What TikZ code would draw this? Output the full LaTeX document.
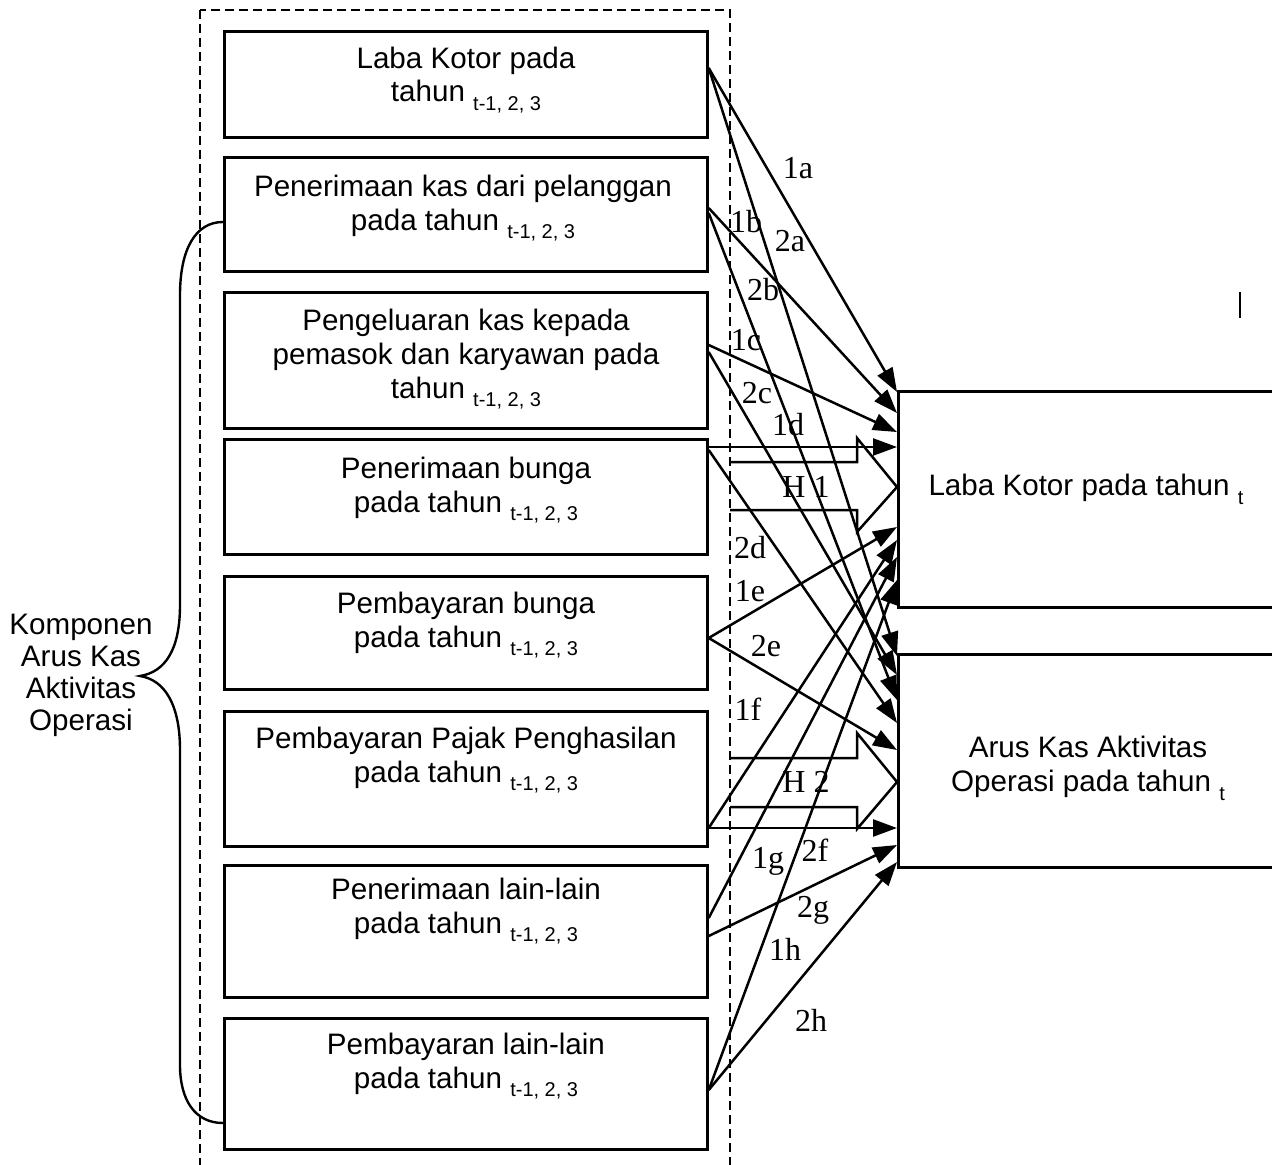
\documentclass[tikz,border=0pt]{standalone}
\usepackage{fontspec}
\setmainfont{Liberation Serif}
\newfontfamily\arialf{Liberation Sans}
\usetikzlibrary{arrows.meta,calc}
\newcommand\subt[1]{\raisebox{-0.3em}{\fontsize{10}{12}\selectfont #1}}
\begin{document}
\begin{tikzpicture}[x=0.5pt,y=-0.5pt,
  lbox/.style={draw, line width=1.35pt, minimum width=241.5pt, minimum height=#1, inner sep=0pt, anchor=north west},
  rbox/.style={draw, line width=1.35pt, minimum width=191pt, minimum height=#1, inner sep=0pt, anchor=north west},
  btxt/.style={font=\arialf\fontsize{14.8}{17}\selectfont, align=center, inner sep=0pt},
  lbl/.style={font=\fontsize{16}{18}\selectfont, inner sep=0pt},
  arr/.style={-{Triangle[length=12pt,width=8.5pt]}, line width=1.25pt},
  blk/.style={line width=1.25pt, line join=miter}
]
\useasboundingbox (0,0) rectangle (1272,1165);
% dashed frame
\draw[line width=1.1pt, dash pattern=on 4.5pt off 2.5pt] (200,10) rectangle (730,1170);
% left boxes
\node[lbox=53pt]   (b1) at (223,30) {};
\node[lbox=57pt]   (b2) at (223,156) {};
\node[lbox=68pt]   (b3) at (223,291) {};
\node[lbox=57.5pt] (b4) at (223,438) {};
\node[lbox=56.5pt] (b5) at (223,575) {};
\node[lbox=67.5pt] (b6) at (223,710) {};
\node[lbox=66pt]   (b7) at (223,864) {};
\node[lbox=65.5pt] (b8) at (223,1017) {};
% texts of left boxes
\node[btxt] (t1) at (466,80) {Laba Kotor pada\\tahun \subt{t-1, 2, 3}};
\node[btxt] (t2) at (463,208) {Penerimaan kas dari pelanggan\\pada tahun \subt{t-1, 2, 3}};
\node[btxt] (t3) at (466,359) {Pengeluaran kas kepada\\pemasok dan karyawan pada\\tahun \subt{t-1, 2, 3}};
\node[btxt] (t4) at (466,490) {Penerimaan bunga\\pada tahun \subt{t-1, 2, 3}};
\node[btxt] (t5) at (466,625) {Pembayaran bunga\\pada tahun \subt{t-1, 2, 3}};
\node[btxt] (t6) at (466,760) {Pembayaran Pajak Penghasilan\\pada tahun \subt{t-1, 2, 3}};
\node[btxt] (t7) at (466,911) {Penerimaan lain-lain\\pada tahun \subt{t-1, 2, 3}};
\node[btxt] (t8) at (466,1066) {Pembayaran lain-lain\\pada tahun \subt{t-1, 2, 3}};
% right boxes
\node[rbox=108pt]  (lk) at (897,390) {};
\node[rbox=106.5pt] (ak) at (897,653) {};
\node[btxt] (tlk) at (1086,489) {Laba Kotor pada tahun \subt{t}};
\node[btxt] (tak) at (1088,768) {Arus Kas Aktivitas\\Operasi pada tahun \subt{t}};
% left label and brace
\node[btxt, font=\arialf\fontsize{14.8}{16}\selectfont] (komp) at (81,675) {Komponen\\Arus Kas\\Aktivitas\\Operasi};
\draw[line width=1.2pt] (b2.west |- 0,222) .. controls (195,222) and (180,250) .. (180,295)
  -- (180,605) .. controls (180,650) and (165,672) .. (140,676)
  .. controls (165,680) and (180,705) .. (180,750)
  -- (180,1065) .. controls (180,1100) and (195,1123) .. (b8.west |- 0,1123);
% block arrows H1 and H2
\draw[blk] (730,462) -- (857,462) -- (857,438) -- (897,487) -- (857,532) -- (857,510) -- (730,510);
\draw[blk] (730,758) -- (857,758) -- (857,733) -- (897,782) -- (857,829) -- (857,807) -- (730,807);
\node[lbl] (h1) at (806,487) {H 1};
\node[lbl] (h2) at (806,782) {H 2};
% connectors to Laba Kotor (1x)
\draw[arr] ($(b1.north east)+(0,38)$)  -- ($(lk.north west)+(0,2)$);
\draw[arr] ($(b2.north east)+(0,52)$)  -- ($(lk.north west)+(0,23)$);
\draw[arr] ($(b3.north east)+(0,54)$)  -- ($(lk.north west)+(0,42)$);
\draw[arr] ($(b4.north east)+(0,9)$)   -- ($(lk.north west)+(0,57)$);
\draw[arr] ($(b5.north east)+(0,63)$)  -- ($(lk.north west)+(0,137)$);
\draw[arr] ($(b6.north east)+(0,118)$) -- ($(lk.north west)+(0,150)$);
\draw[arr] ($(b7.north east)+(0,54)$)  -- ($(lk.north west)+(0,167)$);
\draw[arr] ($(b8.north east)+(0,73)$)  -- ($(lk.north west)+(0,190)$);
% connectors to Arus Kas (2x)
\draw[arr] ($(b1.north east)+(0,38)$)  -- ($(ak.north west)+(0,3)$);
\draw[arr] ($(b2.north east)+(0,57)$)  -- ($(ak.north west)+(0,47)$);
\draw[arr] ($(b3.north east)+(0,61)$)  -- ($(ak.north west)+(0,22)$);
\draw[arr] ($(b4.north east)+(0,12)$)  -- ($(ak.north west)+(0,70)$);
\draw[arr] ($(b5.north east)+(0,63)$)  -- ($(ak.north west)+(0,97)$);
\draw[arr] ($(b6.north east)+(0,118)$) -- ($(ak.north west)+(0,175)$);
\draw[arr] ($(b7.north east)+(0,72)$)  -- ($(ak.north west)+(0,192)$);
\draw[arr] ($(b8.north east)+(0,73)$)  -- ($(ak.north west)+(0,209)$);
% labels
\node[lbl] (l1a) at (798,168) {1a};
\node[lbl] (l1b) at (746,222) {1b};
\node[lbl] (l2a) at (790,241) {2a};
\node[lbl] (l2b) at (763,290) {2b};
\node[lbl] (l1c) at (746,340) {1c};
\node[lbl] (l2c) at (757,393) {2c};
\node[lbl] (l1d) at (788,425) {1d};
\node[lbl] (l2d) at (750,548) {2d};
\node[lbl] (l1e) at (750,591) {1e};
\node[lbl] (l2e) at (766,646) {2e};
\node[lbl] (l1f) at (748,709) {1f};
\node[lbl] (l1g) at (768,861) {1g};
\node[lbl] (l2f) at (815,850) {2f};
\node[lbl] (l2g) at (813,910) {2g};
\node[lbl] (l1h) at (785,949) {1h};
\node[lbl] (l2h) at (811,1020) {2h};
% small mark top right
\draw[line width=1pt] (1240,292) -- (1240,318);
\end{tikzpicture}
\end{document}
